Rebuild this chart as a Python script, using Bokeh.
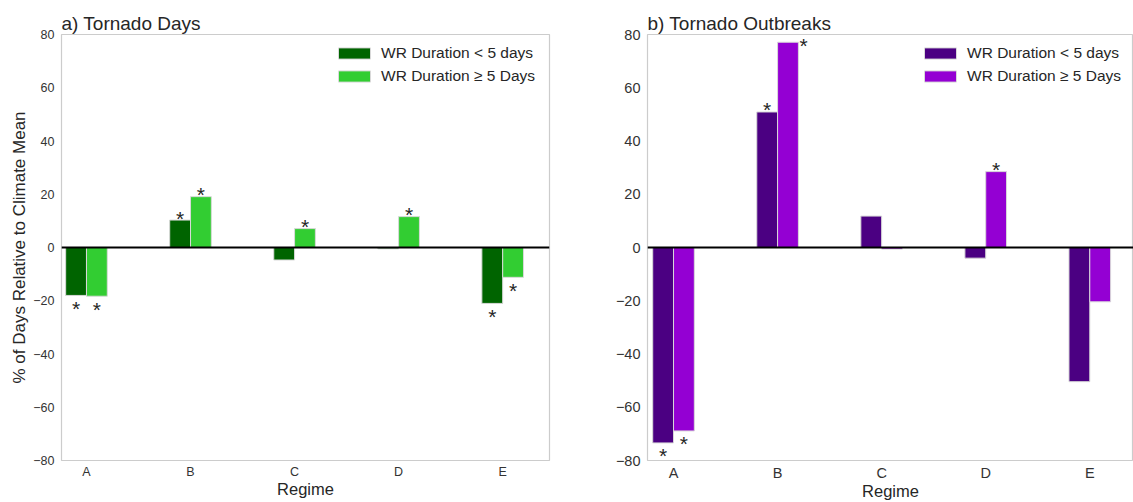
import numpy as np
from bokeh.plotting import figure
from bokeh.models import ColumnDataSource, Range1d, FixedTicker, Span
from bokeh.layouts import row
from bokeh.embed import file_html
from bokeh.resources import INLINE
from bokeh.core.properties import value

# ---------------- data ----------------
regimes = ["A", "B", "C", "D", "E"]
series_labels = ["WR Duration < 5 days", "WR Duration \u2265 5 Days"]

days_short = [-18.0, 10.3, -4.7, -0.5, -21.0]
days_long = [-18.3, 19.1, 7.1, 11.6, -11.2]
days_short_sig = [True, True, False, False, True]
days_long_sig = [True, True, True, True, True]

outb_short = [-73.4, 50.9, 11.8, -4.0, -50.4]
outb_long = [-68.9, 77.1, -0.6, 28.5, -20.4]
outb_short_sig = [True, True, False, False, False]
outb_long_sig = [True, True, False, True, False]

y_ticks = [-80, -60, -40, -20, 0, 20, 40, 60, 80]

FONT = "Liberation Sans"
TXT = "#262626"


def make_panel(title, short, long_, short_sig, long_sig, colors, width,
               b_left, b_right, xr, tick_size, ylabel=None):
    p = figure(width=width, height=502, output_backend="svg", toolbar_location=None,
               x_range=Range1d(*xr), y_range=Range1d(-80, 80),
               min_border_left=b_left, min_border_right=b_right,
               min_border_top=34, min_border_bottom=40)
    p.title.text = title
    p.title.text_font = FONT
    p.title.text_font_size = "19px"
    p.title.text_font_style = "normal"
    p.title.text_color = TXT
    p.title.offset = 0
    p.title.standoff = 2
    p.xgrid.visible = False
    p.ygrid.visible = False
    p.outline_line_color = "#cccccc"
    p.outline_line_width = 1.2
    p.background_fill_color = "white"
    p.border_fill_color = "white"

    xs = np.arange(len(regimes), dtype=float)
    bw = 0.2
    src_s = ColumnDataSource(dict(x=xs - bw / 2, top=short))
    src_l = ColumnDataSource(dict(x=xs + bw / 2, top=long_))
    p.vbar(x="x", top="top", bottom=0, width=bw, source=src_s, fill_color=colors[0],
           line_color="#d9d9d9", line_width=1, legend_label=series_labels[0])
    p.vbar(x="x", top="top", bottom=0, width=bw, source=src_l, fill_color=colors[1],
           line_color="#d9d9d9", line_width=1, legend_label=series_labels[1])

    p.add_layout(Span(location=0, dimension="width", line_color="black", line_width=2))

    # significance stars
    above = dict(x=[], y=[])
    below = dict(x=[], y=[])
    beside = dict(x=[], y=[])
    for xc, vals, sigs in ((xs - bw / 2, short, short_sig), (xs + bw / 2, long_, long_sig)):
        for xi, v, s in zip(xc, vals, sigs):
            if not s:
                continue
            if v > 74:
                beside["x"].append(xi + 0.15)
                beside["y"].append(v)
            elif v >= 0:
                above["x"].append(xi)
                above["y"].append(v)
            else:
                below["x"].append(xi)
                below["y"].append(v)
    star_kw = dict(text=value("*"), text_align="center", text_baseline="alphabetic",
                   text_font=value(FONT), text_font_size="21px", text_color=TXT)
    p.text(x="x", y="y", source=ColumnDataSource(above), y_offset=-2, **star_kw)
    p.text(x="x", y="y", source=ColumnDataSource(below), y_offset=13, **star_kw)
    p.text(x="x", y="y", source=ColumnDataSource(beside), y_offset=3, **star_kw)

    # axes
    ya = p.yaxis[0]
    ya.ticker = FixedTicker(ticks=y_ticks)
    ya.major_label_overrides = {t: (str(t).replace("-", "\u2212")) for t in y_ticks}
    ya.major_tick_line_color = None
    ya.minor_tick_line_color = None
    ya.major_tick_out = 0
    ya.major_tick_in = 0
    ya.axis_line_color = None
    ya.major_label_standoff = 7
    ya.major_label_text_font = FONT
    ya.major_label_text_font_size = tick_size
    ya.major_label_text_color = "#333333"
    if ylabel:
        ya.axis_label = ylabel
        ya.axis_label_text_font = FONT
        ya.axis_label_text_font_size = "17px"
        ya.axis_label_text_font_style = "normal"
        ya.axis_label_text_color = TXT
        ya.axis_label_standoff = 1

    xa = p.xaxis[0]
    xa.ticker = FixedTicker(ticks=list(range(len(regimes))))
    xa.major_label_overrides = {i: r for i, r in enumerate(regimes)}
    xa.major_tick_line_color = None
    xa.minor_tick_line_color = None
    xa.major_tick_out = 0
    xa.major_tick_in = 0
    xa.axis_line_color = None
    xa.major_label_standoff = 4
    xa.major_label_text_font = FONT
    xa.major_label_text_font_size = tick_size
    xa.major_label_text_color = "#333333"
    xa.axis_label = "Regime"
    xa.axis_label_text_font = FONT
    xa.axis_label_text_font_size = "16.5px"
    xa.axis_label_text_font_style = "normal"
    xa.axis_label_text_color = TXT
    xa.axis_label_standoff = -2

    lg = p.legend[0]
    lg.location = (273, 374)
    lg.border_line_color = None
    lg.background_fill_alpha = 0
    lg.margin = 0
    lg.padding = 0
    lg.spacing = 3
    lg.glyph_width = 40
    lg.glyph_height = 14
    lg.label_height = 20
    lg.label_standoff = 7
    lg.label_text_font = FONT
    lg.label_text_font_size = "15.5px"
    lg.label_text_color = TXT
    return p


p1 = make_panel("a) Tornado Days", days_short, days_long, days_short_sig, days_long_sig,
                ["#006400", "#32cd32"], 570, 61, 21, (-0.24, 4.45), "12.5px",
                ylabel="% of Days Relative to Climate Mean")
p2 = make_panel("b) Tornado Outbreaks", outb_short, outb_long, outb_short_sig, outb_long_sig,
                ["#4b0082", "#9400d3"], 563, 77, 0, (-0.25, 4.42), "14.5px")

layout = row(p1, p2)
open("out.html", "w").write(file_html(layout, INLINE))
